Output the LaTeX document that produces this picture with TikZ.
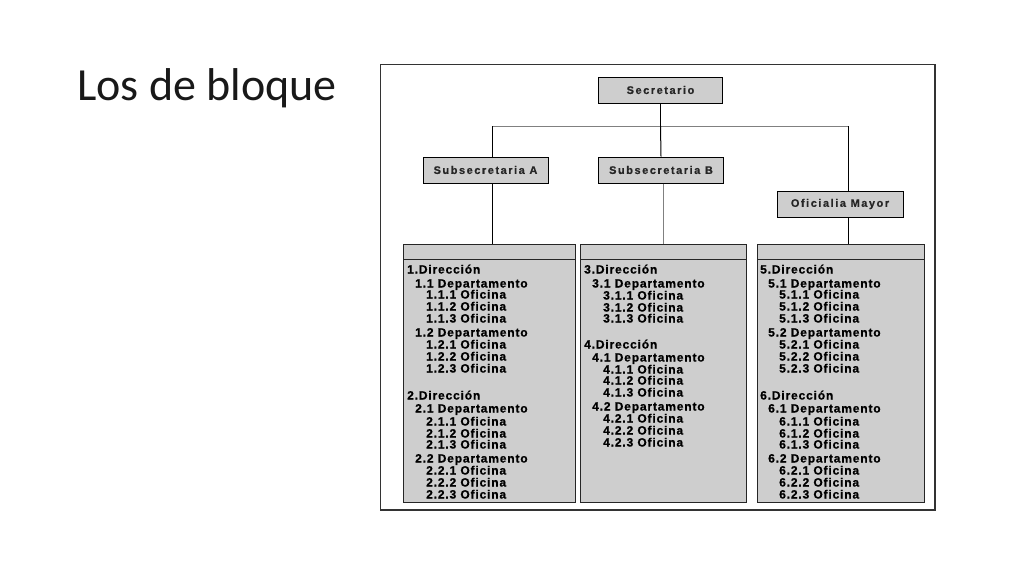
\documentclass[tikz,border=0pt]{standalone}
\usepackage{fontspec}
\setmainfont{Carlito}
\newfontfamily\boxfont[LetterSpace=7,FakeBold=0.8]{Liberation Sans Bold}
\newfontfamily\orgfont[LetterSpace=14,FakeBold=0.6]{Liberation Sans Bold}
\begin{document}
\begin{tikzpicture}[x=1pt,y=-1pt,
  orgbox/.style={draw=black,line width=1pt,fill=boxgray,minimum height=26pt,inner sep=0pt,font=\orgfont\fontsize{11}{12}\selectfont,text=black!85},
  colbox/.style={draw=black!85,line width=1pt,fill=boxgray},
  link/.style={draw=black,line width=1pt},
  glink/.style={draw=black!50,line width=1pt},
  item/.style={anchor=base west,inner sep=0pt,font=\boxfont\fontsize{12}{12}\selectfont,text=black}
]
\definecolor{boxgray}{RGB}{206,206,206}
\useasboundingbox (0,0) rectangle (1024,576);
\fill[white] (0,0) rectangle (1024,576);
\node[anchor=base west,inner sep=0pt,font=\fontsize{46}{50}\selectfont,text=black!90] (title) at (77,100) {Los de bloque};
% frame
\draw[black!80,line width=1.3pt] (380.5,64.5) rectangle (935,510);
% org boxes
\node[orgbox,minimum width=124pt] (sec) at (660.5,90) {Secretario};
\node[orgbox,minimum width=125pt] (suba) at (485.5,170) {Subsecretaria A};
\node[orgbox,minimum width=125pt] (subb) at (661,170) {Subsecretaria B};
\node[orgbox,minimum width=126pt] (ofm) at (840,204) {Oficialia Mayor};
% column boxes
\draw[colbox] (403,244) rectangle (575,502);
\draw[colbox] (580,244) rectangle (746,502);
\draw[colbox] (757,244) rectangle (924,502);
\draw[black!85,line width=0.8pt] (403,259) -- (575,259);
\draw[black!85,line width=0.8pt] (580,259) -- (746,259);
\draw[black!85,line width=0.8pt] (757,259) -- (924,259);
\coordinate (c1top) at (492,244);
\coordinate (c2top) at (663,244);
\coordinate (c3top) at (848,244);
\coordinate (hl) at (492,126);
\coordinate (hr) at (848,126);
\coordinate (hm) at (660.5,126);
% connectors
\draw[glink] (hl) -- (hr);
\draw[link] (sec.south) -- (hm);
\draw[link] (hm) -- (subb.north);
\draw[link] (hl) -- (hl |- suba.north);
\draw[link] (hr) -- (hr |- ofm.north);
\draw[link] (c1top |- suba.south) -- (c1top);
\draw[glink,line width=0.8pt] (c2top |- subb.south) -- (c2top);
\draw[link] (ofm.south -| c3top) -- (c3top);
% column 1
\foreach \yy/\dx/\t [count=\i] in {
 269/0/1.Dirección, 283/8/1.1 Departamento, 294/19/1.1.1 Oficina, 306/19/1.1.2 Oficina, 318/19/1.1.3 Oficina,
 332/8/1.2 Departamento, 344/19/1.2.1 Oficina, 356/19/1.2.2 Oficina, 368/19/1.2.3 Oficina,
 395/0/2.Dirección, 408/8/2.1 Departamento, 421/19/2.1.1 Oficina, 433/19/2.1.2 Oficina, 444/19/2.1.3 Oficina,
 458/8/2.2 Departamento, 470/19/2.2.1 Oficina, 482/19/2.2.2 Oficina, 494/19/2.2.3 Oficina}
 \node[item] (ca\i) at (407+\dx,\yy+4.5) {\t};
% column 2
\foreach \yy/\dx/\t [count=\i] in {
 269/0/3.Dirección, 283/8/3.1 Departamento, 295/19/3.1.1 Oficina, 307/19/3.1.2 Oficina, 318/19/3.1.3 Oficina,
 344/0/4.Dirección, 357/8/4.1 Departamento, 369/19/4.1.1 Oficina, 380/19/4.1.2 Oficina, 392/19/4.1.3 Oficina,
 406/8/4.2 Departamento, 418/19/4.2.1 Oficina, 430/19/4.2.2 Oficina, 442/19/4.2.3 Oficina}
 \node[item] (cb\i) at (584+\dx,\yy+4.5) {\t};
% column 3
\foreach \yy/\dx/\t [count=\i] in {
 269/0/5.Dirección, 283/8/5.1 Departamento, 294/19/5.1.1 Oficina, 306/19/5.1.2 Oficina, 318/19/5.1.3 Oficina,
 332/8/5.2 Departamento, 344/19/5.2.1 Oficina, 356/19/5.2.2 Oficina, 368/19/5.2.3 Oficina,
 395/0/6.Dirección, 408/8/6.1 Departamento, 421/19/6.1.1 Oficina, 433/19/6.1.2 Oficina, 444/19/6.1.3 Oficina,
 458/8/6.2 Departamento, 470/19/6.2.1 Oficina, 482/19/6.2.2 Oficina, 494/19/6.2.3 Oficina}
 \node[item] (cc\i) at (760+\dx,\yy+4.5) {\t};
\end{tikzpicture}
\end{document}
